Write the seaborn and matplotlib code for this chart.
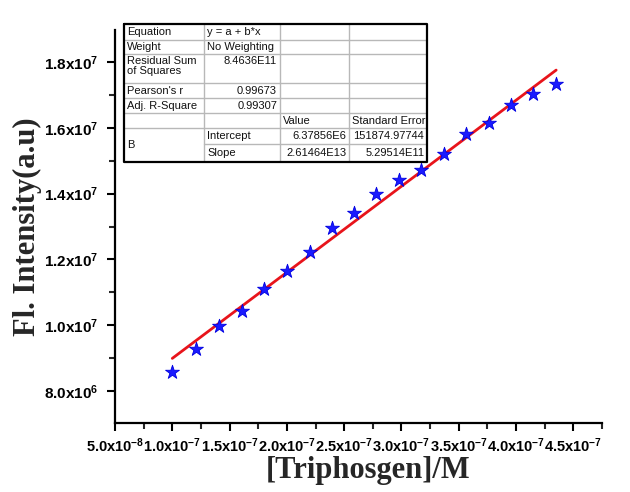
import numpy as np
import pandas as pd
import matplotlib
matplotlib.use('Agg')
import matplotlib.pyplot as plt
import seaborn as sns
from matplotlib.ticker import MultipleLocator, FuncFormatter

# Data
conc = [1.00e-7, 1.21e-7, 1.41e-7, 1.61e-7, 1.80e-7, 2.00e-7, 2.20e-7, 2.39e-7, 2.59e-7,
        2.78e-7, 2.98e-7, 3.17e-7, 3.37e-7, 3.56e-7, 3.76e-7, 3.96e-7, 4.15e-7, 4.35e-7]
intensity = [8.59e6, 9.28e6, 9.97e6, 10.44e6, 11.10e6, 11.65e6, 12.23e6, 12.94e6, 13.42e6,
             13.99e6, 14.41e6, 14.72e6, 15.19e6, 15.81e6, 16.13e6, 16.69e6, 17.02e6, 17.34e6]

# Linear fit parameters (from the Origin table)
intercept = 6.37856e6
slope = 2.61464e13

# Fit table contents
table_rows = [
    ["Equation", "y = a + b*x", "", ""],
    ["Weight", "No Weighting", "", ""],
    ["Residual Sum\nof Squares", "8.4636E11", "", ""],
    ["Pearson's r", "0.99673", "", ""],
    ["Adj. R-Square", "0.99307", "", ""],
    ["", "", "Value", "Standard Error"],
    ["B", "Intercept", "6.37856E6", "151874.97744"],
    ["", "Slope", "2.61464E13", "5.29514E11"],
]

df = pd.DataFrame({"conc": conc, "intensity": intensity})
fit = pd.DataFrame({"conc": [conc[0], conc[-1]]})
fit["intensity"] = intercept + slope * fit["conc"]

sns.set_style("ticks")
plt.rcParams["font.family"] = ["Liberation Sans", "DejaVu Sans"]
plt.rcParams["mathtext.fontset"] = "custom"
plt.rcParams["mathtext.rm"] = "Liberation Sans"
plt.rcParams["mathtext.bf"] = "Liberation Sans:bold"

fig = plt.figure(figsize=(6.3, 4.92), dpi=100)
ax = fig.add_axes([115 / 630, 1 - 423 / 492, (602 - 115) / 630, (423 - 30) / 492])

sns.lineplot(data=fit, x="conc", y="intensity", color="#e8141b", linewidth=2.0, ax=ax)
sns.scatterplot(data=df, x="conc", y="intensity", marker="*", s=110, color="#1a1aff",
                edgecolor="#0000e0", linewidth=0.6, zorder=3, ax=ax)

ax.set_xlim(5e-8, 4.75e-7)
ax.set_ylim(7.03e6, 1.897e7)


def sci_fmt(v, pos):
    if v <= 0:
        return ""
    e = int(np.floor(np.log10(v) + 1e-9))
    m = v / 10 ** e
    return r"$\mathbf{%.1fx10^{%d}}$" % (m, e)


ax.xaxis.set_major_locator(MultipleLocator(5e-8))
ax.xaxis.set_minor_locator(MultipleLocator(2.5e-8))
ax.yaxis.set_major_locator(MultipleLocator(2e6))
ax.yaxis.set_minor_locator(MultipleLocator(1e6))
ax.xaxis.set_major_formatter(FuncFormatter(sci_fmt))
ax.yaxis.set_major_formatter(FuncFormatter(sci_fmt))
ax.tick_params(axis="both", which="major", direction="out", length=6, width=1.5,
               colors="black")
ax.tick_params(axis="x", which="major", labelsize=10.5, pad=4)
ax.tick_params(axis="y", which="major", labelsize=11, pad=6)
ax.tick_params(axis="both", which="minor", direction="out", length=4, width=1.5)

for side in ["left", "bottom"]:
    ax.spines[side].set_linewidth(1.6)
    ax.spines[side].set_color("black")
sns.despine(ax=ax)

ax.set_xlabel("[Triphosgen]/M", fontsize=22, fontweight="bold",
              family=["Liberation Serif", "DejaVu Serif"])
ax.set_ylabel("Fl. Intensity(a.u)", fontsize=22, fontweight="bold",
              family=["Liberation Serif", "DejaVu Serif"])
ax.xaxis.set_label_coords(0.52, -0.085)
ax.yaxis.set_label_coords(-0.15, 0.5)

# Fit result table, laid out in pixel units of its own axes
col_x = [124.3, 204.3, 280.0, 349.3, 427.3]
row_y = [24.3, 40.0, 54.3, 83.3, 98.3, 113.3, 128.3, 144.3, 161.7]
tax = fig.add_axes([col_x[0] / 630, 1 - row_y[-1] / 492,
                    (col_x[-1] - col_x[0]) / 630, (row_y[-1] - row_y[0]) / 492])
tax.set_xlim(col_x[0], col_x[-1])
tax.set_ylim(row_y[-1], row_y[0])
tax.axis("off")

grid_c = "#b8b8b8"
for yy in row_y[1:-1]:
    if yy == row_y[7]:
        tax.plot([col_x[1], col_x[-1]], [yy, yy], color=grid_c, lw=1.0)
    else:
        tax.plot([col_x[0], col_x[-1]], [yy, yy], color=grid_c, lw=1.0)
for xx in col_x[1:-1]:
    tax.plot([xx, xx], [row_y[0], row_y[-1]], color=grid_c, lw=1.0)
tax.plot([col_x[0], col_x[-1], col_x[-1], col_x[0], col_x[0]],
         [row_y[0], row_y[0], row_y[-1], row_y[-1], row_y[0]], color="black", lw=1.6,
         clip_on=False)

right_cells = {(2, 1), (3, 1), (4, 1), (6, 2), (6, 3), (7, 2), (7, 3)}
for r, row in enumerate(table_rows):
    for c, txt in enumerate(row):
        if not txt:
            continue
        top, bot = row_y[r], row_y[r + 1]
        if r == 6 and c == 0:
            bot = row_y[8]
        yc = (top + bot) / 2
        va = "center"
        if r == 2:
            yc, va = top + 1.5, "top"
        if (r, c) in right_cells:
            tax.text(col_x[c + 1] - 3, yc, txt, ha="right", va=va, fontsize=8, color="#111111")
        else:
            tax.text(col_x[c] + 3, yc, txt, ha="left", va=va, fontsize=8, color="#111111",
                     linespacing=1.05)

fig.savefig("out.png", dpi=100)
